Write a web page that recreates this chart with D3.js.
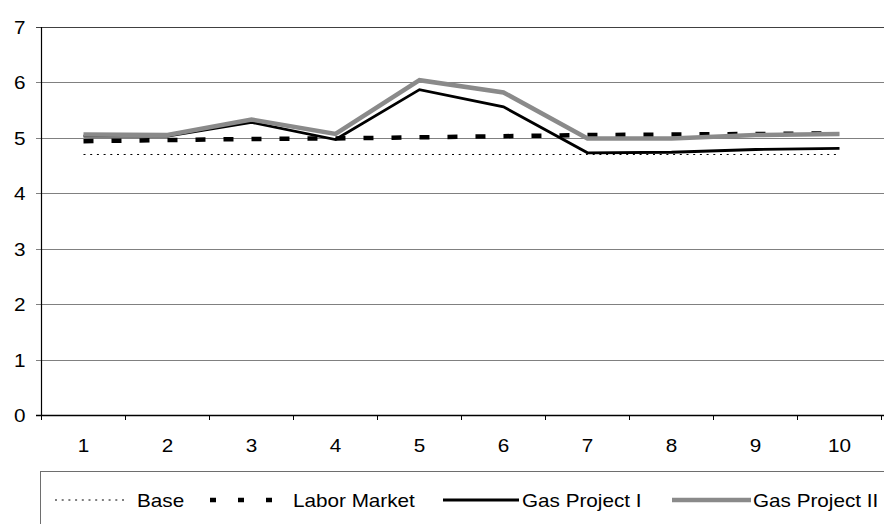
<!DOCTYPE html>
<html>
<head>
<meta charset="utf-8">
<script src="https://cdn.jsdelivr.net/npm/d3@7/dist/d3.min.js"></script>
<style>
  html, body { margin: 0; padding: 0; background: #fff; }
  svg { display: block; }
  text { font-family: "Liberation Sans", Arial, sans-serif; fill: #000; }
</style>
</head>
<body>
<svg id="chart" width="884" height="524"></svg>
<script>
// Period labels along the horizontal axis
const categories = ["1", "2", "3", "4", "5", "6", "7", "8", "9", "10"];

// Series values per period
const baseValues        = [4.70, 4.70, 4.70, 4.70, 4.70, 4.70, 4.70, 4.70, 4.70, 4.70];
const laborMarketValues = [4.94, 4.96, 4.98, 4.99, 5.01, 5.03, 5.05, 5.06, 5.07, 5.08];
const gasProject1Values = [5.03, 5.03, 5.28, 4.97, 5.87, 5.56, 4.73, 4.74, 4.79, 4.81];
const gasProject2Values = [5.06, 5.05, 5.33, 5.07, 6.04, 5.82, 4.99, 4.99, 5.05, 5.07];

// Vertical axis tick values
const yTicks = [0, 1, 2, 3, 4, 5, 6, 7];

const seriesNames = ["Base", "Labor Market", "Gas Project I", "Gas Project II"];

const series = [
  { name: seriesNames[0], values: baseValues,        color: "#000",    width: 1,   dash: "2,4.7",  legendDash: "2,4.7" },
  { name: seriesNames[1], values: laborMarketValues, color: "#000",    width: 4.5, dash: "10,18",  legendDash: "6,22" },
  { name: seriesNames[2], values: gasProject1Values, color: "#000",    width: 2.8, dash: null,     legendDash: null },
  { name: seriesNames[3], values: gasProject2Values, color: "#8a8a8a", width: 4.5, dash: null,     legendDash: null }
];

const svg = d3.select("#chart");
const plotLeft = 41.5, plotRight = 881.5, plotTop = 27, plotBottom = 415;
const SX = 1.15; // horizontal stretch of the label type

const x = d3.scaleBand().domain(categories).range([plotLeft, plotRight]);
const y = d3.scaleLinear().domain([0, 7]).range([plotBottom, plotTop]);
const cx = c => x(c) + x.bandwidth() / 2;

// Horizontal gridlines (with short outer ticks on the left)
svg.append("g").selectAll("line")
  .data(yTicks.filter(t => t > 0))
  .join("line")
  .attr("x1", 36).attr("x2", 884)
  .attr("y1", d => Math.round(y(d)) + 0.5).attr("y2", d => Math.round(y(d)) + 0.5)
  .attr("stroke", d => d === 7 ? "#404040" : "#808080")
  .attr("stroke-width", 1);

// Y axis labels
const yAxis = d3.axisLeft(y).tickValues(yTicks).tickFormat(d3.format("d")).tickSize(0).tickPadding(0);
const gy = svg.append("g").attr("transform", `translate(${plotLeft},0)`).call(yAxis);
gy.select(".domain").remove();
gy.selectAll("text")
  .attr("x", null).attr("dy", null)
  .attr("font-size", 18)
  .attr("font-family", "Liberation Sans, Arial, sans-serif")
  .attr("text-anchor", "end")
  .attr("dominant-baseline", "central")
  .attr("transform", `translate(-16,0) scale(${SX},1)`);

// Left axis line
svg.append("line")
  .attr("x1", plotLeft).attr("x2", plotLeft).attr("y1", plotTop).attr("y2", plotBottom)
  .attr("stroke", "#000").attr("stroke-width", 1.2);

// Bottom axis line with tick marks at category boundaries
svg.append("line")
  .attr("x1", 36).attr("x2", 884)
  .attr("y1", Math.round(y(0)) + 0.5).attr("y2", Math.round(y(0)) + 0.5)
  .attr("stroke", "#000").attr("stroke-width", 1.5);
const bounds = categories.map(c => x(c)).concat([plotRight]);
svg.append("g").selectAll("line")
  .data(bounds)
  .join("line")
  .attr("x1", d => d).attr("x2", d => d)
  .attr("y1", plotBottom).attr("y2", plotBottom + 5)
  .attr("stroke", "#000").attr("stroke-width", 1);

// X axis labels
const xAxis = d3.axisBottom(x).tickSize(0).tickPadding(0);
const gx = svg.append("g").attr("transform", `translate(0,${plotBottom})`).call(xAxis);
gx.select(".domain").remove();
gx.selectAll("text")
  .attr("y", null).attr("dy", null)
  .attr("font-size", 18)
  .attr("font-family", "Liberation Sans, Arial, sans-serif")
  .attr("text-anchor", "middle")
  .attr("transform", `translate(0,37) scale(${SX},1)`);

// Series lines
const line = d3.line().x((d, i) => cx(categories[i])).y(d => y(d));
svg.append("g").selectAll("path")
  .data(series)
  .join("path")
  .attr("d", s => line(s.values))
  .attr("fill", "none")
  .attr("stroke", s => s.color)
  .attr("stroke-width", s => s.width)
  .attr("stroke-dasharray", s => s.dash)
  .attr("stroke-linejoin", "miter");

// Legend box
svg.append("rect")
  .attr("x", 40.5).attr("y", 471.5).attr("width", 860).attr("height", 80)
  .attr("fill", "#fff").attr("stroke", "#6e6e6e").attr("stroke-width", 1);

const legendItems = [
  { s: series[0], x1: 55,  x2: 128, tx: 137 },
  { s: series[1], x1: 210, x2: 282, tx: 293 },
  { s: series[2], x1: 443, x2: 519, tx: 522 },
  { s: series[3], x1: 672, x2: 751, tx: 753 }
];
const lg = svg.append("g").selectAll("g").data(legendItems).join("g");
lg.append("line")
  .attr("x1", d => d.x1).attr("x2", d => d.x2)
  .attr("y1", 500).attr("y2", 500)
  .attr("stroke", d => d.s.color)
  .attr("stroke-width", d => d.s.width)
  .attr("stroke-dasharray", d => d.s.legendDash);
lg.append("text")
  .attr("font-size", 18)
  .attr("transform", d => `translate(${d.tx},506.5) scale(${SX},1)`)
  .text(d => d.s.name);
</script>
</body>
</html>
